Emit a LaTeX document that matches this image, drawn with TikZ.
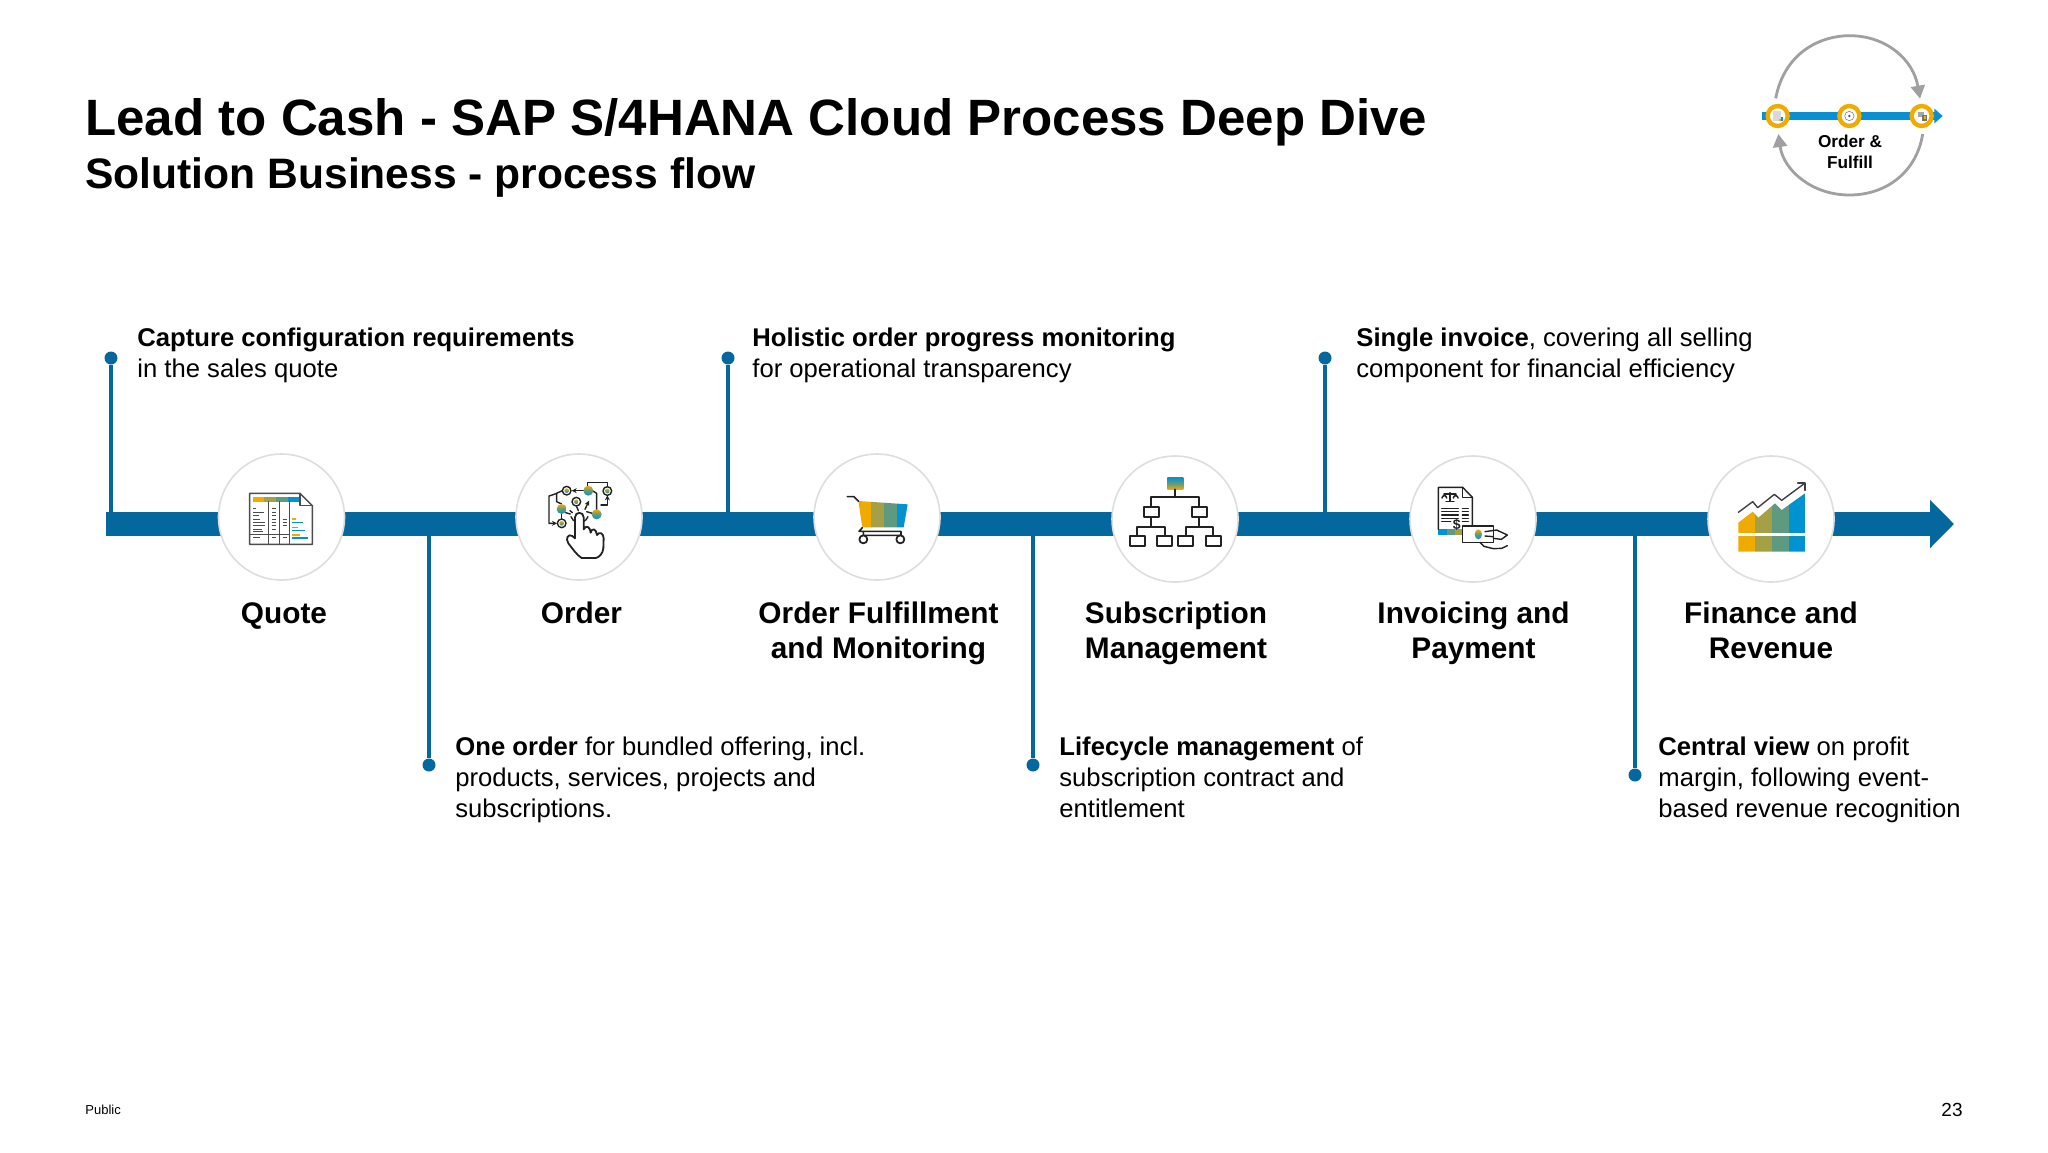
\documentclass[tikz,border=0pt]{standalone}
\usepackage{fontspec}
\setmainfont{Liberation Sans}
\usetikzlibrary{arrows.meta}
\definecolor{barblue}{HTML}{04689F}
\definecolor{syel}{HTML}{F0AB00}
\definecolor{soli}{HTML}{A5A045}
\definecolor{stea}{HTML}{5E9A80}
\definecolor{sblu}{HTML}{0092D1}
\definecolor{logoblue}{HTML}{0A8FD2}
\definecolor{logogray}{HTML}{A0A0A0}
\definecolor{ink}{HTML}{222222}
\tikzset{
  zm/.style={x=0.16667pt,y=-0.16667pt},
  stepcircle/.style={circle,fill=white,draw=black!13,line width=0.8pt,minimum size=63pt,inner sep=0pt},
  dotnode/.style={circle,fill=barblue,minimum size=6.5pt,inner sep=0pt},
  stem/.style={draw=barblue,line width=2.2pt},
  steplabel/.style={font=\fontsize{14.9}{17.5}\selectfont\bfseries,align=center,inner sep=0pt,anchor=base,text=black},
  bodytext/.style={font=\fontsize{12.82}{15.5}\selectfont,align=left,inner sep=0pt,anchor=base west,text=black},
  iconline/.style={draw=ink,line width=0.7pt,line join=round,line cap=round},
  logoarc/.style={draw=logogray,line width=1.4pt},
  logoring/.style={circle,draw=syel,line width=2.2pt,fill=white,minimum size=10pt,inner sep=0pt},
}
\begin{document}
\begin{tikzpicture}[x=0.5pt,y=-0.5pt]
\useasboundingbox (0,0) rectangle (2048,1152);
\fill[white] (0,0) rectangle (2048,1152);

% titles
\node[inner sep=0pt,anchor=base west,font=\fontsize{25.53}{30}\selectfont\bfseries] (title) at (85,135) {Lead to Cash - SAP S/4HANA Cloud Process Deep Dive};
\node[inner sep=0pt,anchor=base west,font=\fontsize{21.3}{25}\selectfont\bfseries] (subtitle) at (85,188) {Solution Business - process flow};

% main bar
\coordinate (barstart) at (106,524);
\coordinate (barend) at (1954,524);
\draw[barblue,line width=12pt,-{Triangle[length=12pt,width=23.5pt]}] (barstart) -- (barend);

% stems
\foreach \n/\x/\ya/\yb in {a/111/358/514,b/429/765/534,c/728/358/514,d/1033/765/534,e/1325/358/514,f/1635/775/534}{
  \node[dotnode] (dot\n) at (\x,\ya) {};
  \coordinate (bar\n) at (\x,\yb);
  \draw[stem] (dot\n) -- (bar\n);
}

% circles
\node[stepcircle] (c1) at (281.5,517) {};
\node[stepcircle] (c2) at (579,517) {};
\node[stepcircle] (c3) at (877,517) {};
\node[stepcircle] (c4) at (1175,519) {};
\node[stepcircle] (c5) at (1473,519) {};
\node[stepcircle] (c6) at (1771,519) {};

% labels
\node[steplabel] (l1) at (284,623) {Quote};
\node[steplabel] (l2) at (581.5,623) {Order};
\node[steplabel] (l3) at (878.5,658) {Order Fulfillment\\and Monitoring};
\node[steplabel] (l4) at (1176,658) {Subscription\\Management};
\node[steplabel] (l5) at (1473.5,658) {Invoicing and\\Payment};
\node[steplabel] (l6) at (1771,658) {Finance and\\Revenue};

% body
\node[bodytext] (t1) at (137,377) {\textbf{Capture configuration requirements}\\in the sales quote};
\node[bodytext] (t2) at (752,377) {\textbf{Holistic order progress monitoring}\\for operational transparency};
\node[bodytext] (t3) at (1356,377) {\textbf{Single invoice}, covering all selling\\component for financial efficiency};
\node[bodytext] (t4) at (455,817) {\textbf{One order} for bundled offering, incl.\\products, services, projects and\\subscriptions.};
\node[bodytext] (t5) at (1059,817) {\textbf{Lifecycle management} of\\subscription contract and\\entitlement};
\node[bodytext] (t6) at (1658,817) {\textbf{Central view} on profit\\margin, following event-\\based revenue recognition};

% footer
\node[inner sep=0pt,anchor=west,font=\fontsize{6.5}{8}\selectfont] (pub) at (85,1110) {Public};
\node[inner sep=0pt,anchor=east,font=\fontsize{9.5}{11}\selectfont] (num) at (1963,1110) {23};

% ---- Quote icon
\begin{scope}[shift={(235,475)},zm]
  \fill[syel] (53,65) rectangle (88,80);
  \fill[soli] (88,65) rectangle (124,80);
  \fill[stea] (124,65) rectangle (160,80);
  \fill[sblu] (160,65) rectangle (195,80);
  \draw[iconline,draw=black!70] (44,55) -- (195,55) -- (232,92) -- (232,208) -- (44,208) -- cycle;
  \draw[iconline,draw=black!70] (195,55) -- (195,92) -- (232,92);
  \draw[iconline,draw=black!70] (100,80) -- (100,208) (133,80) -- (133,208) (163,80) -- (163,208);
  \draw[iconline,draw=black!70] (44,178) -- (163,178);
  \foreach \yy/\wa in {100/8,112/32,122/18,132/22,142/36,152/36,162/28,170/30,188/22}
    \draw[draw=black!70,line width=0.5pt] (54,\yy) -- ({54+\wa},\yy);
  \foreach \yy in {100,112,122,132,142,152,162,188}
    \draw[draw=black!70,line width=0.5pt] (112,\yy) -- (124,\yy);
  \foreach \yy in {132,142,152,188}
    \draw[draw=black!70,line width=0.5pt] (143,\yy) -- (155,\yy);
  \fill[syel] (172,130) rectangle (184,135);
  \fill[sblu] (172,140) rectangle (205,145);
  \fill[soli] (172,155) rectangle (190,160);
  \fill[sblu] (172,164) rectangle (210,169);
  \fill[syel] (172,178) rectangle (196,183);
  \fill[sblu] (172,186) rectangle (220,191);
\end{scope}

% ---- Order icon
\begin{scope}[shift={(535,470)},zm]
  \draw[iconline,-{Stealth[length=2.5pt,width=2.5pt]}] (148,62) -- (110,62);
  \draw[iconline,-{Stealth[length=2.5pt,width=2.5pt]}] (82,62) -- (60,72) -- (42,78) -- (42,160) -- (66,160);
  \draw[iconline] (80,102) -- (65,95) -- (65,72);
  \draw[iconline] (158,50) -- (158,38) -- (217,38) -- (217,50);
  \draw[iconline] (185,122) -- (185,70) -- (172,62);
  \draw[iconline,-{Stealth[length=2.5pt,width=2.5pt]}] (198,105) -- (217,105) -- (217,76);
  \draw[iconline,-{Stealth[length=2.5pt,width=2.5pt]}] (150,118) -- (162,92);
  \draw[iconline] (80,130) -- (80,148);
  \draw[iconline] (108,140) arc (160:20:27);
  \draw[iconline] (125,110) -- (130,122) (105,122) -- (112,128) (155,125) -- (172,130) (92,128) -- (106,132);
  \foreach \cx/\cy in {95/62,217/63,124/95,80/160}{
    \draw[iconline,fill=white] (\cx,\cy) circle (13);
    \shade[top color=syel,bottom color=sblu] (\cx,\cy) circle (7);
  }
  \foreach \cx/\cy in {160/62,80/117,185/133}
    \shade[top color=syel,bottom color=sblu,middle color=stea] (\cx,\cy) circle (15);
  \draw[iconline,line width=0.9pt,fill=white] (120,200)
     -- (120,142) .. controls (120,124) and (146,124) .. (146,142)
     -- (146,178) .. controls (152,164) and (166,170) .. (167,188)
     .. controls (170,172) and (184,176) .. (186,195)
     .. controls (192,184) and (205,188) .. (206,205)
     -- (205,235) .. controls (203,252) and (192,262) .. (182,264)
     -- (140,264) .. controls (125,255) and (112,235) .. (100,220)
     .. controls (90,205) and (100,190) .. (112,198) -- (120,205) -- cycle;
\end{scope}

% ---- Cart icon
\begin{scope}[shift={(800,440)},zm]
  \begin{scope}
    \clip (175,183) -- (323,193) -- (311,262) -- (187,262) -- cycle;
    \fill[syel] (170,180) rectangle (212,265);
    \fill[soli] (212,180) rectangle (252,265);
    \fill[stea] (252,180) rectangle (291,265);
    \fill[sblu] (291,180) rectangle (330,265);
  \end{scope}
  \draw[iconline,line width=0.8pt] (142,170) -- (162,170) -- (176,184);
  \draw[iconline,line width=0.8pt] (187,263) -- (177,274) -- (303,274) -- (303,286) -- (190,286) -- (190,274);
  \draw[iconline,line width=0.9pt,fill=white] (190,298) circle (12);
  \draw[iconline,line width=0.9pt,fill=white] (301,298) circle (12);
\end{scope}

% ---- Tree icon
\begin{scope}[shift={(800,440)},zm]
  \shade[top color=sblu,bottom color=syel,middle color=stea] (1102,112) rectangle (1150,148);
  \draw[iconline,line width=0.9pt] (1125,148) -- (1125,172);
  \draw[iconline,line width=0.9pt] (1053,200) -- (1053,172) -- (1198,172) -- (1198,200);
  \draw[iconline,line width=0.9pt] (1053,232) -- (1053,260);
  \draw[iconline,line width=0.9pt] (1011,287) -- (1011,260) -- (1094,260) -- (1094,287);
  \draw[iconline,line width=0.9pt] (1198,232) -- (1198,260);
  \draw[iconline,line width=0.9pt] (1157,287) -- (1157,260) -- (1240,260) -- (1240,287);
  \foreach \xa/\ya/\xb/\yb in {1031/200/1076/232,1176/200/1221/232,989/287/1034/318,1071/287/1116/318,1135/287/1180/318,1217/287/1262/318}
    \draw[iconline,line width=0.9pt] (\xa,\ya) rectangle (\xb,\yb);
\end{scope}

% ---- Invoice icon
\begin{scope}[shift={(1430,480)},zm]
  \fill[sblu] (25,148) rectangle (50,165);
  \fill[stea] (50,148) rectangle (75,165);
  \fill[soli] (75,148) rectangle (97,165);
  \draw[iconline] (25,148) -- (25,22) -- (98,22) -- (127,52) -- (127,140);
  \draw[iconline] (98,22) -- (98,52) -- (127,52);
  \foreach \yy in {85,95,105,115}{
    \draw[iconline] (35,\yy) -- (85,\yy);
    \draw[iconline] (97,\yy) -- (115,\yy);
  }
  \draw[iconline] (35,125) -- (62,125);
  \draw[iconline] (97,125) -- (115,125);
  \draw[iconline] (60,38) -- (60,63) (48,65) -- (72,65) (42,42) -- (78,42);
  \draw[iconline] (36,54) arc (180:360:7);
  \draw[iconline] (70,54) arc (180:360:7);
  \draw[iconline,line width=0.4pt] (36,54) -- (43,42) -- (50,54) (70,54) -- (77,42) -- (84,54);
  \node[inner sep=0pt,font=\fontsize{7}{8}\selectfont\bfseries,text=ink] (dollar) at (80,133) {\$};
  \draw[iconline,fill=white] (97,138) rectangle (190,187);
  \shade[top color=syel,bottom color=sblu,middle color=stea] (145,163) ellipse (11 and 15);
  \draw[iconline] (165,155) -- (200,150) -- (232,165) -- (214,178) -- (190,175) (165,168) -- (190,170);
  \draw[iconline] (150,187) -- (162,199) -- (190,206) -- (215,205) -- (232,197);
\end{scope}

% ---- Finance icon
\begin{scope}[shift={(1730,475)},zm]
  \begin{scope}
    \clip (25,143) -- (68,110) -- (85,128) -- (135,85) -- (155,105) -- (225,55) -- (225,230) -- (25,230) -- cycle;
    \fill[syel] (25,50) rectangle (75,230);
    \fill[soli] (75,50) rectangle (126,230);
    \fill[stea] (126,50) rectangle (177,230);
    \fill[sblu] (177,50) rectangle (225,230);
  \end{scope}
  \fill[white] (20,174) rectangle (230,182);
  \draw[iconline,draw=black!75] (25,112) -- (68,80) -- (83,98) -- (133,58) -- (155,76) -- (224,25);
  \draw[iconline,draw=black!75] (203,24) -- (225,24) -- (225,46);
\end{scope}

% ---- logo
\begin{scope}[shift={(1740,20)},zm]
  \coordinate (arcTL) at (107,235);
  \coordinate (arcBR) at (548,342);
  \draw[logoarc,-{Triangle[length=6.5pt,width=7pt]}] (arcTL) .. controls (135,90) and (250,47) .. (328,47) .. controls (440,47) and (520,120) .. (540,236);
  \draw[logoarc,-{Triangle[length=6.5pt,width=7pt]}] (arcBR) .. controls (530,455) and (440,525) .. (328,525) .. controls (215,525) and (130,450) .. (115,342);
  \coordinate (ls) at (65,288);
  \coordinate (le) at (608,288);
  \draw[logoblue,line width=3.6pt,-{Triangle[length=4.2pt,width=7.2pt]}] (ls) -- (le);
  \node[logoring] (r1) at (113,288) {};
  \node[logoring] (r2) at (328,288) {};
  \node[logoring] (r3) at (545,288) {};
  \fill[black!15] (100,272) rectangle (122,302);
  \fill[syel] (117,296) rectangle (122,304);
  \fill[sblu] (122,290) rectangle (128,304);
  \draw[black!50,line width=0.3pt] (328,288) circle (14);
  \fill[black!70] (328,288) circle (4);
  \fill[black!35] (534,277) rectangle (552,292);
  \fill[black!55] (546,286) rectangle (562,304);
  \fill[syel] (552,288) rectangle (558,296);
\end{scope}
\node[inner sep=0pt,align=center,anchor=base,font=\fontsize{8.6}{10.2}\selectfont\bfseries] (logotext) at (1850,168) {Order \&\\Fulfill};
\end{tikzpicture}
\end{document}
